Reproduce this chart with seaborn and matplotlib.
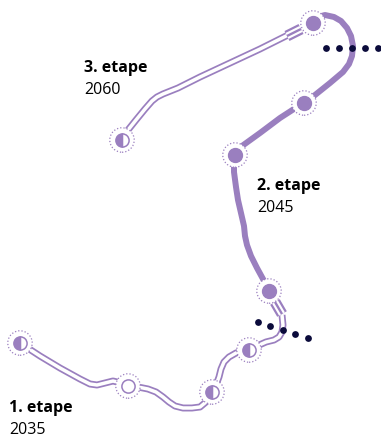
import numpy as np
import pandas as pd
import matplotlib
matplotlib.use("Agg")
import matplotlib.pyplot as plt
import seaborn as sns

# route geometry (pixel space of the original drawing, y pointing down)
stage1_x = [20, 40, 60, 80, 90, 97, 105, 113, 121, 128, 138, 148, 156, 163, 169, 175, 183, 192, 200, 206,
            212, 216, 219, 221, 224, 229, 236, 243, 249, 257, 266, 274, 279, 282, 283, 282]
stage1_y = [343, 356, 368, 379, 384, 385, 383, 381, 383, 386, 387, 389, 392, 397, 402, 406, 408, 408, 407, 402,
            392, 385, 377, 369, 362, 357, 353, 351, 350, 346, 342, 340, 337, 332, 325, 315]

stage2_x = [269, 263, 257, 251, 247, 245, 244, 241, 238, 236, 234, 234, 235, 242, 260, 280, 297, 304, 315,
            330, 343, 349, 352, 353, 351, 347, 341, 334, 325, 318, 313]
stage2_y = [291, 279, 268, 256, 245, 236, 226, 213, 200, 187, 172, 160, 155, 146, 133, 118, 107, 103, 95,
            83, 72, 64, 56, 46, 36, 28, 21, 17, 15, 17, 23]

stage3_x = [288, 260, 230, 200, 178, 163, 157, 152, 145, 136, 128, 122]
stage3_y = [35, 49, 63, 77, 88, 94, 97, 101, 109, 120, 130, 140]

# transition markers (three parallel bars)
marker_a = ([275, 282], [302, 314])
marker_b = ([287, 301], [36, 29])

# stations
station_x = [20, 128, 212, 249, 269, 235, 304, 313, 122]
station_y = [343, 386, 392, 350, 291, 155, 103, 23, 140]
station_kind = ["half", "open", "half", "half", "full", "full", "full", "full", "half"]

# dotted borders
dots1_x = [326, 339, 352, 365, 378]
dots1_y = [48, 48, 48, 48, 48]
dots2_x = [258, 270, 283, 295, 308]
dots2_y = [322, 326, 330, 334, 338]

# labels
label_titles = ["1. etape", "2. etape", "3. etape"]
label_years = ["2035", "2045", "2060"]
label_x = [9, 257, 84]
label_y = [412, 190, 72]

PURPLE = "#9a7fbf"
NAVY = "#0b0b3b"

sns.set_theme(style="white")
plt.rcParams["font.family"] = ["Open Sans", "DejaVu Sans"]

fig = plt.figure(figsize=(3.81, 4.37), dpi=100)
ax = fig.add_axes([0, 0, 1, 1])
ax.set_xlim(0, 381)
ax.set_ylim(437, 0)
ax.set_axis_off()


def route(xs, ys, double):
    df = pd.DataFrame({"x": xs, "y": ys})
    kw = dict(data=df, x="x", y="y", sort=False, estimator=None, ax=ax,
              solid_capstyle="butt", solid_joinstyle="round")
    if double:
        sns.lineplot(color=PURPLE, linewidth=5.0, **kw)
        sns.lineplot(color="white", linewidth=2.5, **kw)
    else:
        sns.lineplot(color=PURPLE, linewidth=4.3, **kw)


def triple(seg):
    df = pd.DataFrame({"x": seg[0], "y": seg[1]})
    kw = dict(data=df, x="x", y="y", sort=False, estimator=None, ax=ax, solid_capstyle="butt")
    sns.lineplot(color=PURPLE, linewidth=8, **kw)
    sns.lineplot(color="white", linewidth=4.8, **kw)
    sns.lineplot(color=PURPLE, linewidth=1.7, **kw)


route(stage1_x, stage1_y, True)
route(stage3_x, stage3_y, True)
route(stage2_x, stage2_y, False)
triple(marker_a)
triple(marker_b)

# dotted borders
sns.scatterplot(x=dots1_x, y=dots1_y, color=NAVY, s=24, linewidth=0, ax=ax, zorder=5)
sns.scatterplot(x=dots2_x, y=dots2_y, color=NAVY, s=24, linewidth=0, ax=ax, zorder=5)

# station halos
sns.scatterplot(x=station_x, y=station_y, s=310, color="white", edgecolor=PURPLE,
                linewidth=0.9, linestyle=(0, (1, 1.6)), ax=ax, zorder=6)

for sx, sy, kind in zip(station_x, station_y, station_kind):
    if kind == "full":
        ax.plot(sx, sy, marker="o", ms=10, color=PURPLE, mec=PURPLE, zorder=7)
    elif kind == "half":
        ax.plot(sx, sy, marker="o", ms=9.5, fillstyle="left", color=PURPLE,
                markerfacecoloralt="white", mec=PURPLE, mew=1.1, zorder=7)
    else:
        ax.plot(sx, sy, marker="o", ms=9.5, mfc="white", mec=PURPLE, mew=1.1, zorder=7)

for t, yr, lx, ly in zip(label_titles, label_years, label_x, label_y):
    ax.text(lx, ly, t, fontsize=11.5, fontweight="bold", color="black", va="baseline", ha="left")
    ax.text(lx, ly + 22, yr, fontsize=11.5, color="black", va="baseline", ha="left")

fig.savefig("out.png", dpi=100)
